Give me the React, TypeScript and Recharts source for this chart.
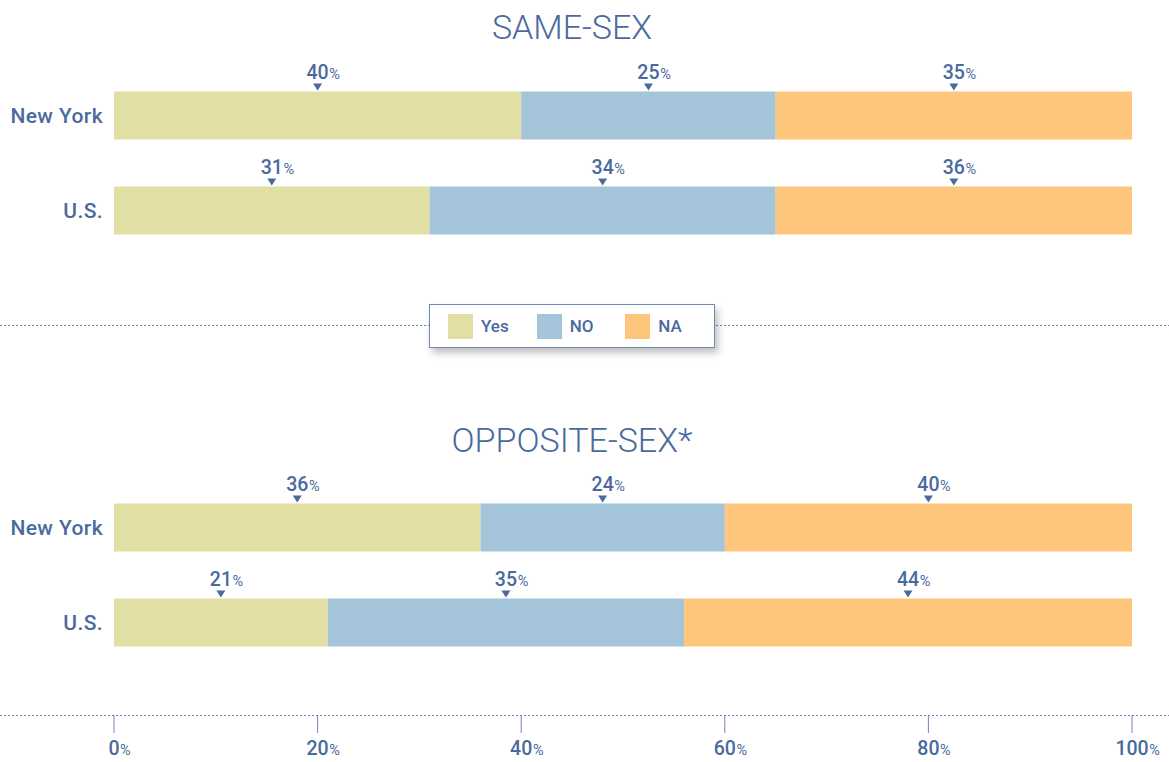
import { BarChart, Bar, XAxis, YAxis, Legend, LabelList } from 'recharts';

const categories = ['New York', 'U.S.'];
const sameYes = [40, 31];
const sameNo = [25, 34];
const sameNa = [35, 36];
const oppYes = [36, 21];
const oppNo = [24, 35];
const oppNa = [40, 44];
const xTicks = [0, 20, 40, 60, 80, 100];
const seriesKeys = ['yes', 'no', 'na'];
const seriesNames = ['Yes', 'NO', 'NA'];
const colors = ['#e1dfa3', '#a4c4da', '#fec67c'];

const INK = '#4a6a9e';
const FONT = 'Roboto, "DejaVu Sans", sans-serif';

const sameData = categories.map((name, i) => ({ name, yes: sameYes[i], no: sameNo[i], na: sameNa[i] }));
const oppData = categories.map((name, i) => ({ name, yes: oppYes[i], no: oppNo[i], na: oppNa[i] }));

// digits centred on the anchor, the small % hangs to the right
const PctText = ({ x, y, value }: { x: number; y: number; value: any }) => {
  const s = String(value);
  const half = (s.length * 11.2) / 2;
  return (
    <g fontFamily={FONT} fill={INK}>
      <text x={x} y={y} textAnchor="middle" fontSize={19.5} fontWeight={500}>{s}</text>
      <text x={x + half + 0.5} y={y} textAnchor="start" fontSize={14.5}>%</text>
    </g>
  );
};

const ValueLabel = (props: any) => {
  const { x, y, width, value } = props;
  const cx = Number(x) + Number(width) / 2;
  const top = Number(y);
  return (
    <g>
      <path d={`M${cx - 4.5},${top - 8} L${cx + 4.5},${top - 8} L${cx},${top - 1} Z`} fill={INK} />
      <PctText x={cx} y={top - 13} value={value} />
    </g>
  );
};

const CategoryTick = (props: any) => {
  const { x, y, payload } = props;
  return (
    <text x={x} y={y + 7.5} textAnchor="end" fontFamily={FONT} fontSize={21} fontWeight={500}
      letterSpacing={0.4} fill={INK}>
      {payload.value}
    </text>
  );
};

const PercentTick = (props: any) => {
  const { x, y, payload } = props;
  return <PctText x={x} y={y + 20} value={payload.value} />;
};

const LegendBox = (props: any) => {
  const payload = props.payload || [];
  const items = seriesNames.map((n, i) => {
    const p = payload.find((it: any) => it.value === n);
    return { value: n, color: p ? p.color : colors[i] };
  });
  return (
    <div style={{
      width: 286, height: 44, boxSizing: 'border-box', background: '#fff',
      border: '1.5px solid #7089b8', boxShadow: '3px 5px 7px rgba(0,0,0,0.25)',
      display: 'flex', alignItems: 'center', paddingLeft: 18, fontFamily: FONT,
    }}>
      {items.map((it: any) => (
        <div key={it.value} style={{ display: 'flex', alignItems: 'center', width: 94 }}>
          <div style={{ width: 25, height: 25, background: it.color }} />
          <span style={{ marginLeft: 8, fontSize: 17, fontWeight: 500, color: INK }}>{it.value}</span>
        </div>
      ))}
    </div>
  );
};

const series = () =>
  seriesKeys.map((k, i) => (
    <Bar key={k} dataKey={k} name={seriesNames[i]} stackId="a" fill={colors[i]} isAnimationActive={false}>
      <LabelList dataKey={k} content={ValueLabel} />
    </Bar>
  ));

const titleStyle = (top: number): any => ({
  position: 'absolute', left: 0, top, width: 1144, textAlign: 'center',
  fontFamily: FONT, fontWeight: 300, fontSize: 34, lineHeight: '34px', color: INK,
});

export default function App() {
  return (
    <div style={{ position: 'absolute', left: 0, top: 0, width: 1169, height: 762, background: '#fff' }}>
      <svg width={1169} height={762} style={{ position: 'absolute', left: 0, top: 0 }}>
        <line x1={0} x2={1169} y1={325.5} y2={325.5} stroke="#6d84b0" strokeDasharray="2 2" />
        <line x1={0} x2={1169} y1={715.5} y2={715.5} stroke="#6d84b0" strokeDasharray="2 2" />
      </svg>

      <div style={titleStyle(10.4)}>SAME-SEX</div>
      <div style={titleStyle(423.4)}>OPPOSITE-SEX*</div>

      <div style={{ position: 'absolute', left: 0, top: 0 }}>
        <BarChart width={1169} height={360} data={sameData} layout="vertical" barSize={48}
          margin={{ top: 67.5, right: 37, bottom: 102.5, left: 0 }}>
          <XAxis type="number" domain={[0, 100]} allowDataOverflow hide />
          <YAxis type="category" dataKey="name" width={114} axisLine={false} tickLine={false}
            tickSize={0} tickMargin={11} tick={CategoryTick} />
          {series()}
          <Legend layout="horizontal" verticalAlign="middle" align="center" content={LegendBox}
            wrapperStyle={{ position: 'absolute', top: 304, left: 429, width: 286, height: 44 }} />
        </BarChart>
      </div>

      <div style={{ position: 'absolute', left: 0, top: 380 }}>
        <BarChart width={1169} height={382} data={oppData} layout="vertical" barSize={48}
          margin={{ top: 99.5, right: 37, bottom: 0, left: 0 }}>
          <XAxis type="number" domain={[0, 100]} allowDataOverflow ticks={xTicks} interval={0} height={47}
            axisLine={false} tickSize={18} tickLine={{ stroke: '#6f88b6' }} tick={PercentTick} />
          <YAxis type="category" dataKey="name" width={114} axisLine={false} tickLine={false}
            tickSize={0} tickMargin={11} tick={CategoryTick} padding={{ top: 0, bottom: 45.5 }} />
          {series()}
        </BarChart>
      </div>
    </div>
  );
}
